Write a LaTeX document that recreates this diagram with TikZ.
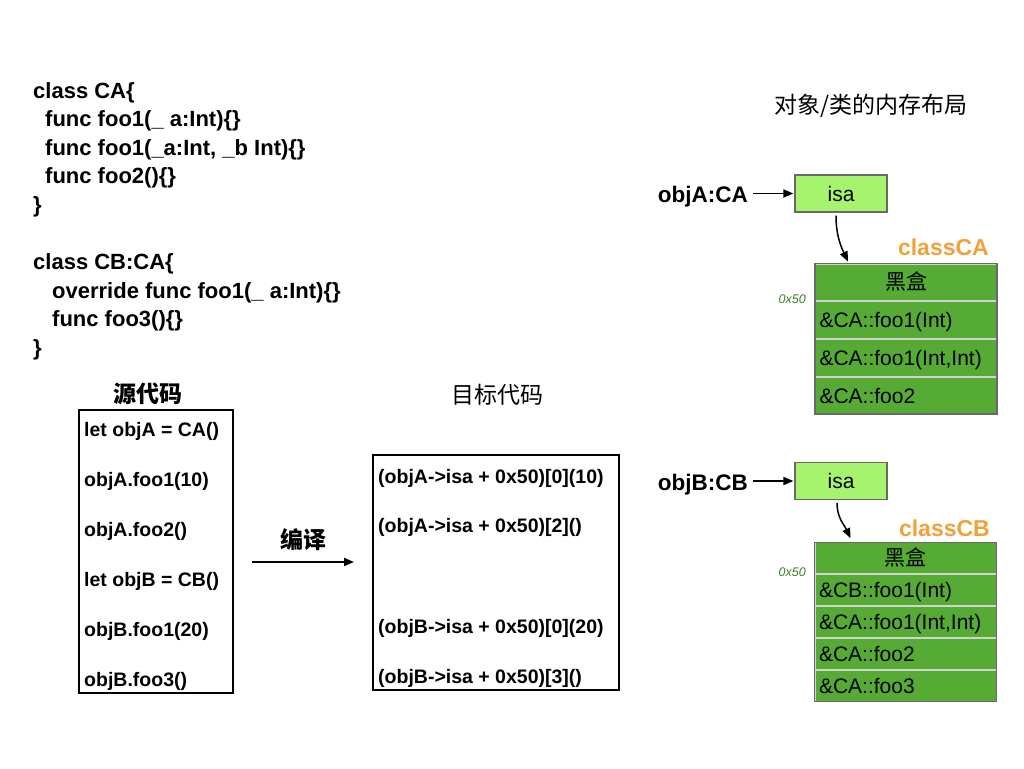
\documentclass[tikz,border=0pt]{standalone}
\usepackage{fontspec}
\setmainfont{Liberation Sans}
\newfontfamily\cjk{Noto Sans CJK SC}
\usepackage{tikz}
\usetikzlibrary{arrows.meta,positioning}
\definecolor{isagreen}{RGB}{166,243,110}
\definecolor{boxgreen}{RGB}{85,171,52}
\definecolor{addrgreen}{RGB}{59,125,35}
\definecolor{classorange}{RGB}{242,160,58}
\definecolor{edgegray}{RGB}{105,105,105}

\begin{document}
\begin{tikzpicture}[x=1pt,y=-1pt,
    code/.style={anchor=base west, inner sep=0pt, font=\fontsize{22}{26}\selectfont\bfseries},
    src/.style={anchor=base west, inner sep=0pt, font=\fontsize{19.5}{23}\selectfont\bfseries},
    zhcap/.style={inner sep=0pt, font=\fontsize{23}{27}\selectfont\cjk},
    objlbl/.style={anchor=base east, inner sep=0pt, font=\fontsize{22.5}{26}\selectfont\bfseries},
    clslbl/.style={anchor=base east, inner sep=0pt, text=classorange, font=\fontsize{23}{27}\selectfont\bfseries},
    addr/.style={anchor=east, inner sep=0pt, text=addrgreen, font=\fontsize{12.5}{15}\selectfont\itshape},
    codebox/.style={draw, line width=2pt},
    isabox/.style={draw=edgegray, line width=1.2pt, fill=isagreen, minimum width=92pt, minimum height=37pt, font=\fontsize{21}{25}\selectfont},
    hdrcell/.style={draw=gray!35, line width=1pt, fill=boxgreen, minimum width=181pt, minimum height=#1, inner sep=0pt, text height=15pt, text depth=0pt, font=\fontsize{21}{25}\selectfont\cjk},
    slotcell/.style={draw=gray!35, line width=1pt, fill=boxgreen, minimum height=#1, inner ysep=0pt, inner xsep=4pt, text width=173pt, align=left, text height=15pt, text depth=0pt, font=\fontsize{21}{25}\selectfont},
    arr/.style={-{Triangle[length=10pt,width=8pt]}, line width=1.8pt}]
    \useasboundingbox (0,0) rectangle (1024,768);
    % class declarations
    \node[code] (l1) at (33,98) {class CA\{};
    \node[code] (l2) at (45,126.6) {func foo1(\_ a:Int)\{\}};
    \node[code] (l3) at (45,155.2) {func foo1(\_a:Int, \_b Int)\{\}};
    \node[code] (l4) at (45,183.8) {func foo2()\{\}};
    \node[code] (l5) at (33,212.4) {\}};
    \node[code] (l6) at (33,269.6) {class CB:CA\{};
    \node[code] (l7) at (52,298.2) {override func foo1(\_ a:Int)\{\}};
    \node[code] (l8) at (52,326.8) {func foo3()\{\}};
    \node[code] (l9) at (33,355.4) {\}};
    % source and target code
    \node[codebox, minimum width=154pt, minimum height=283pt] (srcbox) at (156,551.5) {};
    \node[codebox, minimum width=246pt, minimum height=235pt] (tgtbox) at (496,572.5) {};
    \node[zhcap, font=\fontsize{23}{27}\selectfont\cjk\bfseries] (srccap) at (148,394) {源代码};
    \node[zhcap] (tgtcap) at (497,395) {目标代码};
    \node[src] (s1) at (84,436) {let objA = CA()};
    \node[src] (s2) at (84,486) {objA.foo1(10)};
    \node[src] (s3) at (84,536) {objA.foo2()};
    \node[src] (s4) at (84,586) {let objB = CB()};
    \node[src] (s5) at (84,636) {objB.foo1(20)};
    \node[src] (s6) at (84,686) {objB.foo3()};
    \node[src] (t1) at (378,483) {(objA->isa + 0x50)[0](10)};
    \node[src] (t2) at (378,532) {(objA->isa + 0x50)[2]()};
    \node[src] (t3) at (378,633) {(objB->isa + 0x50)[0](20)};
    \node[src] (t4) at (378,683) {(objB->isa + 0x50)[3]()};
    \coordinate (cstart) at (252,562);
    \coordinate (cend) at (354,562);
    \draw[arr] (cstart) -- (cend);
    \node[zhcap, font=\fontsize{23}{27}\selectfont\cjk\bfseries] (compile) at (303.5,540) {编译};
    % memory layout
    \node[zhcap] (title) at (871,106) {对象/类的内存布局};
    \node[isabox] (isaA) at (841,193.5) {isa};
    \node[objlbl] (objA) at (748,202) {objA:CA};
    \draw[arr, shorten <=5pt, shorten >=1pt] (objA.east |- isaA.west) -- (isaA.west);
    \node[clslbl] (clsA) at (989,255) {classCA};
    \node[hdrcell=36.5pt] (hA) at (906,282.3) {黑盒};
    \node[slotcell=37pt, below=0pt of hA] (a1) {\&CA::foo1(Int)};
    \node[slotcell=37pt, below=0pt of a1] (a2) {\&CA::foo1(Int,Int)};
    \node[slotcell=36pt, below=0pt of a2] (a3) {\&CA::foo2};
    \draw[edgegray, line width=1.4pt] (hA.north west) rectangle (a3.south east);
    \node[addr] (offA) at (806,299) {0x50};
    \draw[arr, line width=1.5pt] ([xshift=-5pt,yshift=-3pt]isaA.south) to[out=-90,in=115] ([xshift=-58pt,yshift=2pt]hA.north);
    \node[isabox] (isaB) at (841,481) {isa};
    \node[objlbl] (objB) at (748,490) {objB:CB};
    \draw[arr, shorten <=5pt, shorten >=1pt] (objB.east |- isaB.west) -- (isaB.west);
    \node[clslbl] (clsB) at (990,536) {classCB};
    \node[hdrcell=30.5pt] (hB) at (905.5,558) {黑盒};
    \node[slotcell=31pt, below=0pt of hB] (b1) {\&CB::foo1(Int)};
    \node[slotcell=31pt, below=0pt of b1] (b2) {\&CA::foo1(Int,Int)};
    \node[slotcell=31pt, below=0pt of b2] (b3) {\&CA::foo2};
    \node[slotcell=31pt, below=0pt of b3] (b4) {\&CA::foo3};
    \draw[edgegray, line width=1.4pt] (hB.north west) rectangle (b4.south east);
    \node[addr] (offB) at (806,572) {0x50};
    \draw[arr, line width=1.5pt] ([xshift=-4pt,yshift=-3pt]isaB.south) to[out=-90,in=115] ([xshift=-55pt,yshift=4pt]hB.north);
\end{tikzpicture}
\end{document}
